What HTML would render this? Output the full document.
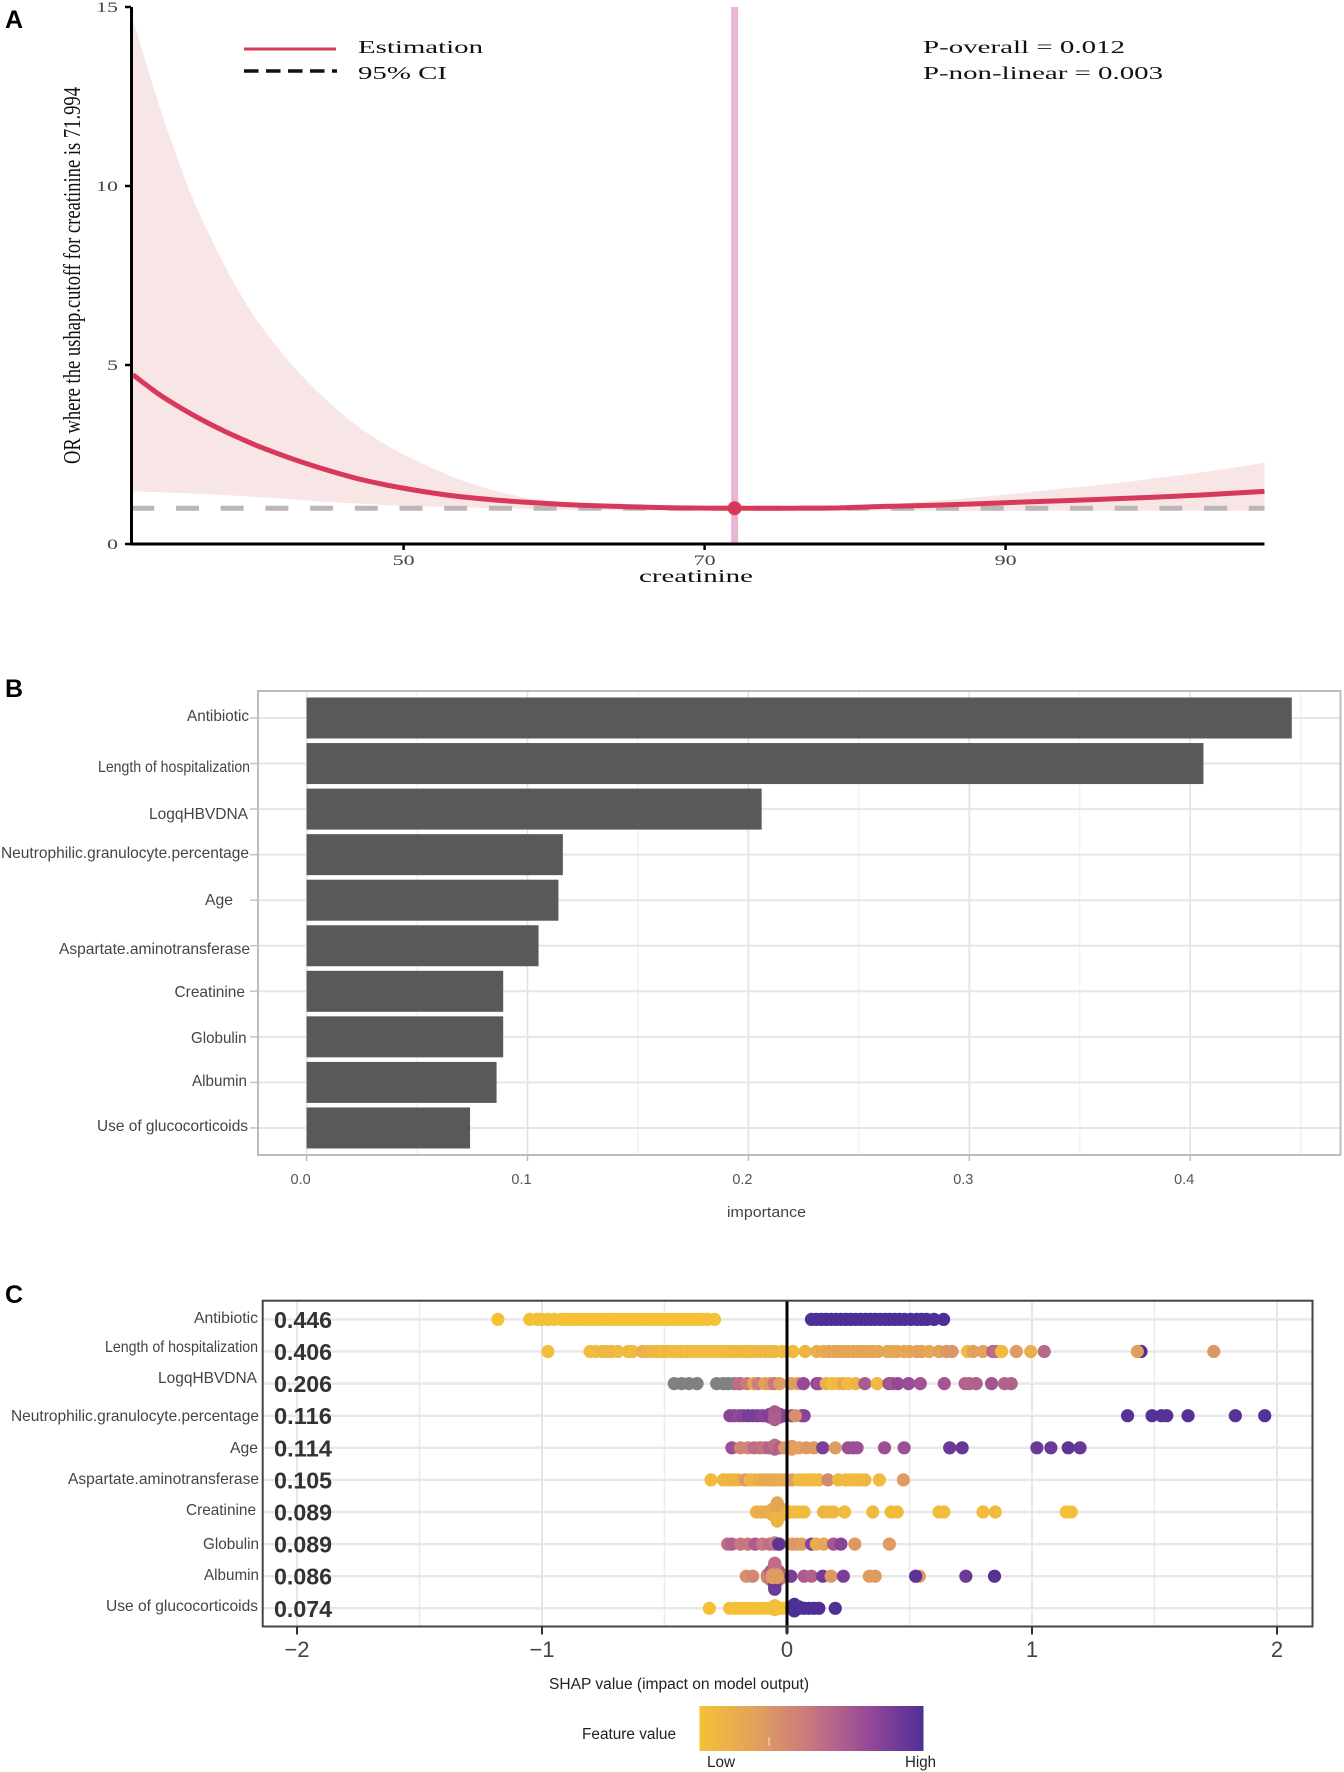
<!DOCTYPE html>
<html lang="en">
<head>
<meta charset="utf-8">
<title>Creatinine RCS, variable importance and SHAP summary</title>
<style>
html,body{margin:0;padding:0;background:#fff;}
svg{display:block;}
.serif{font-family:"Liberation Serif",serif;}
.sans{font-family:"Liberation Sans",sans-serif;}
</style>
</head>
<body>
<svg id="fig" xmlns="http://www.w3.org/2000/svg" width="1344" height="1772" viewBox="0 0 1344 1772">
<defs>
<linearGradient id="fvGrad" x1="0" x2="1" y1="0" y2="0">
<stop offset="0" stop-color="#f4c136"/>
<stop offset="0.25" stop-color="#e2a15c"/>
<stop offset="0.5" stop-color="#c87680"/>
<stop offset="0.75" stop-color="#974a98"/>
<stop offset="1" stop-color="#4e2f96"/>
</linearGradient>
</defs>
<rect width="1344" height="1772" fill="#fff"/>

<g class="sans" font-weight="bold" font-size="25" fill="#000">
<text x="5" y="28">A</text>
<text x="5" y="697">B</text>
<text x="5" y="1303">C</text>
</g>

<g id="panelA"></g>
<g class="serif" fill="#111">
<line x1="244" x2="336" y1="49" y2="49" stroke="#d93a58" stroke-width="3"/>
<line x1="244" x2="337" y1="71" y2="71" stroke="#111" stroke-width="3.5" stroke-dasharray="14.5 7.5"/>
<text x="358" y="53" font-size="18" textLength="125" lengthAdjust="spacingAndGlyphs">Estimation</text>
<text x="358" y="79" font-size="18" textLength="89" lengthAdjust="spacingAndGlyphs">95% CI</text>
<text x="923" y="53" font-size="18" textLength="202" lengthAdjust="spacingAndGlyphs">P-overall = 0.012</text>
<text x="923" y="79" font-size="18" textLength="240" lengthAdjust="spacingAndGlyphs">P-non-linear = 0.003</text>
<text x="639" y="582" font-size="18" textLength="114" lengthAdjust="spacingAndGlyphs">creatinine</text>
<text x="80" y="464" font-size="24" textLength="377" lengthAdjust="spacingAndGlyphs" transform="rotate(-90 80 464)">OR where the ushap.cutoff for creatinine is 71.994</text>
</g>

<g id="panelB"></g>
<g class="sans" font-size="16" fill="#444">
<text x="187" y="721" textLength="62" lengthAdjust="spacingAndGlyphs">Antibiotic</text>
<text x="98" y="772" textLength="152" lengthAdjust="spacingAndGlyphs">Length of hospitalization</text>
<text x="149" y="819" textLength="99" lengthAdjust="spacingAndGlyphs">LogqHBVDNA</text>
<text x="1" y="858" textLength="248" lengthAdjust="spacingAndGlyphs">Neutrophilic.granulocyte.percentage</text>
<text x="205" y="905" textLength="28" lengthAdjust="spacingAndGlyphs">Age</text>
<text x="59" y="954" textLength="191" lengthAdjust="spacingAndGlyphs">Aspartate.aminotransferase</text>
<text x="174.5" y="997" textLength="70.5" lengthAdjust="spacingAndGlyphs">Creatinine</text>
<text x="191" y="1043" textLength="55.5" lengthAdjust="spacingAndGlyphs">Globulin</text>
<text x="192" y="1086" textLength="55" lengthAdjust="spacingAndGlyphs">Albumin</text>
<text x="97" y="1131" textLength="151" lengthAdjust="spacingAndGlyphs">Use of glucocorticoids</text>
<text x="727" y="1217" font-size="15" textLength="79" lengthAdjust="spacingAndGlyphs">importance</text>
</g>

<g id="panelC"></g>
<g class="sans" font-size="16" fill="#444">
<text x="194" y="1323" textLength="64" lengthAdjust="spacingAndGlyphs">Antibiotic</text>
<text x="105" y="1352" textLength="153" lengthAdjust="spacingAndGlyphs">Length of hospitalization</text>
<text x="158" y="1383" textLength="99" lengthAdjust="spacingAndGlyphs">LogqHBVDNA</text>
<text x="11" y="1421" textLength="248" lengthAdjust="spacingAndGlyphs">Neutrophilic.granulocyte.percentage</text>
<text x="230" y="1453" textLength="28" lengthAdjust="spacingAndGlyphs">Age</text>
<text x="68" y="1484" textLength="191" lengthAdjust="spacingAndGlyphs">Aspartate.aminotransferase</text>
<text x="186" y="1515" textLength="70" lengthAdjust="spacingAndGlyphs">Creatinine</text>
<text x="203" y="1549" textLength="56" lengthAdjust="spacingAndGlyphs">Globulin</text>
<text x="204" y="1580" textLength="55" lengthAdjust="spacingAndGlyphs">Albumin</text>
<text x="106" y="1611" textLength="152" lengthAdjust="spacingAndGlyphs">Use of glucocorticoids</text>
</g>
<g class="sans" fill="#222">
<text x="549" y="1689" font-size="15.5" textLength="260" lengthAdjust="spacingAndGlyphs">SHAP value (impact on model output)</text>
<text x="582" y="1739" font-size="15.5" textLength="94" lengthAdjust="spacingAndGlyphs">Feature value</text>
<rect x="699.5" y="1706" width="224" height="45" fill="url(#fvGrad)"/>
<line x1="769" x2="769" y1="1737" y2="1746" stroke="#f6e4dc" stroke-width="1"/>
<text x="707" y="1767" font-size="15.5" textLength="28" lengthAdjust="spacingAndGlyphs">Low</text>
<text x="905" y="1767" font-size="15.5" textLength="31" lengthAdjust="spacingAndGlyphs">High</text>
</g>
</svg>

<script>
/* ---------- Panel A data ---------- */
const creatinine = [32,33.65,34.8,35.9,37,38.1,39.2,40.3,42.6,44.8,46.9,49.2,51.4,53.6,55.8,58,60,62,65,68,72,76,79,82,85,88,91,94,97,100,103,107.2];
const estimate   = [4.73,4.21,3.9,3.63,3.38,3.15,2.94,2.74,2.38,2.08,1.83,1.62,1.46,1.33,1.24,1.17,1.12,1.08,1.04,1.01,1,1,1.01,1.05,1.08,1.12,1.17,1.21,1.26,1.31,1.37,1.47];
const ciUpper    = [14.66,12.4,10.97,9.74,8.72,7.78,6.95,6.22,5,4.05,3.3,2.68,2.22,1.82,1.52,1.3,1.19,1.12,1.05,1.01,1,1,1.04,1.1,1.2,1.3,1.42,1.56,1.68,1.84,2,2.27];
const ciLower    = [1.47,1.45,1.43,1.41,1.39,1.37,1.34,1.31,1.25,1.18,1.13,1.08,1.05,1.03,1,0.98,0.96,0.95,0.94,0.95,1,0.97,0.95,0.93,0.93,0.93,0.93,0.93,0.93,0.93,0.93,0.93];
const cutoffX = 71.994;
const refOR = 1;
const aXTicks = [50,70,90];
const aYTicks = [0,5,10,15];

/* ---------- Panel B data ---------- */
const importance = [0.446,0.406,0.206,0.116,0.114,0.105,0.089,0.089,0.086,0.074];
const bMajorTicks = [0,0.1,0.2,0.3,0.4];
const bMinorTicks = [0.05,0.15,0.25,0.35,0.45];
const bTickLabels = ["0.0","0.1","0.2","0.3","0.4"];

/* ---------- Panel C data: [SHAP value, feature value (0 low .. 1 high, null = missing)] ---------- */
const meanShap = ["0.446","0.406","0.206","0.116","0.114","0.105","0.089","0.089","0.086","0.074"];
const cMajorTicks = [-2,-1,0,1,2];
const cMinorTicks = [-1.5,-0.5,0.5,1.5];
const cTickLabels = ["\u22122","\u22121","0","1","2"];
const rowAntibiotic = [[-1.18,0],[-1.05,0],[-1.02,0],[-1,0],[-0.975,0],[-0.95,0],[-0.92,0],[-0.905,0],[-0.885,0],[-0.865,0],[-0.845,0],[-0.825,0],[-0.805,0],[-0.785,0],[-0.765,0],[-0.745,0],[-0.725,0],[-0.705,0],[-0.685,0],[-0.665,0],[-0.645,0],[-0.625,0],[-0.605,0],[-0.585,0],[-0.565,0],[-0.545,0],[-0.525,0],[-0.505,0],[-0.485,0],[-0.465,0],[-0.445,0],[-0.425,0],[-0.405,0],[-0.385,0],[-0.365,0],[-0.345,0],[-0.325,0],[-0.296,0],
[0.1,1],[0.12,1],[0.14,1],[0.16,1],[0.18,1],[0.2,1],[0.22,1],[0.24,1],[0.26,1],[0.28,1],[0.3,1],[0.32,1],[0.34,1],[0.36,1],[0.38,1],[0.4,1],[0.42,1],[0.44,1],[0.46,1],[0.48,1],[0.505,1],[0.53,1],[0.55,1],[0.57,1],[0.6,1],[0.639,1]];
const rowHospitalization = [[1.445,1],[-0.976,0.02],[-0.804,0.03],[-0.78,0.04],[-0.753,0.08],[-0.735,0.08],[-0.717,0.08],[-0.69,0.06],[-0.648,0.06],[-0.63,0.06],[-0.59,0.14],[-0.57,0.12],[-0.55,0.08],[-0.53,0.08],[-0.51,0.06],[-0.49,0.08],[-0.47,0.06],[-0.45,0.06],[-0.43,0.06],[-0.41,0.05],[-0.39,0.05],[-0.37,0.05],[-0.35,0.05],[-0.33,0.05],[-0.31,0.05],[-0.29,0.05],[-0.27,0.05],[-0.25,0.05],[-0.23,0.07],[-0.21,0.07],[-0.19,0.07],[-0.17,0.07],[-0.15,0.07],[-0.13,0.07],[-0.11,0.07],[-0.09,0.08],[-0.07,0.08],[-0.05,0.08],[-0.02,0.06],[0.024,0.06],[0.074,0.1],[0.122,0.15],[0.15,0.18],[0.17,0.2],[0.194,0.2],[0.21,0.22],[0.23,0.22],[0.25,0.22],[0.27,0.22],[0.29,0.22],[0.31,0.22],[0.33,0.22],[0.35,0.22],[0.372,0.22],[0.41,0.2],[0.43,0.2],[0.45,0.2],[0.478,0.2],[0.5,0.22],[0.53,0.24],[0.55,0.24],[0.58,0.2],[0.62,0.24],[0.65,0.3],[0.674,0.32],[0.737,0.05],[0.76,0.25],[0.8,0.25],[0.84,0.6],[0.853,0.55],[0.876,0.05],[0.936,0.28],[0.995,0.15],[1.05,0.58],[1.43,0.26],[1.742,0.3]];
const rowLogqHBVDNA = [[-0.46,null],[-0.43,null],[-0.4,null],[-0.367,null],[-0.287,null],[-0.26,null],[-0.24,null],[-0.216,null],[-0.19,null],[-0.198,0.55],[-0.163,0.48],[-0.136,0.22],[-0.118,0.45],[-0.09,0.24],[-0.07,0.3],[-0.052,0.5],[-0.03,0.28],[0.016,0.25],[0.045,0.3],[0.067,0.76],[0.122,0.8],[0.131,0.72],[0.16,0.14],[0.185,0.03],[0.21,0.08],[0.23,0.2],[0.25,0.05],[0.28,0.1],[0.318,0.66],[0.368,0.06],[0.416,0.72],[0.43,0.68],[0.452,0.76],[0.496,0.74],[0.544,0.7],[0.642,0.68],[0.727,0.62],[0.745,0.6],[0.772,0.62],[0.835,0.7],[0.888,0.62],[0.915,0.62]];
const rowNeutrophilic = [[-0.233,0.8],[-0.215,0.8],[-0.195,0.76],[-0.18,0.8],[-0.16,0.85],[-0.14,0.85],[-0.12,0.85],[-0.1,0.8],[-0.085,0.8],[-0.07,0.82],[-0.07,0.82],[-0.07,0.82],[-0.03,0.82],[-0.03,0.82],[-0.03,0.82],[-0.01,0.8],[0.02,0.8],[0.06,0.8],[0.07,0.8],[0.034,0.35],[-0.05,0.76],[-0.05,0.74],[-0.05,0.72],[-0.05,0.68],[-0.05,0.66],[-0.05,0.66],[-0.05,0.64],
[1.39,0.97],[1.49,0.97],[1.528,0.97],[1.55,0.97],[1.637,0.97],[1.83,0.97],[1.95,0.97]];
const rowAge = [[-0.225,0.72],[-0.19,0.42],[-0.16,0.42],[-0.135,0.55],[-0.11,0.55],[-0.09,0.5],[-0.073,0.6],[-0.06,0.6],[-0.05,0.6],[-0.05,0.55],[-0.05,0.6],[-0.05,0.55],[-0.03,0.62],[-0.01,0.3],[0.02,0.25],[0.02,0.28],[0.02,0.25],[0.05,0.25],[0.08,0.3],[0.11,0.3],[0.146,0.85],[0.197,0.28],[0.25,0.72],[0.27,0.72],[0.286,0.72],[0.398,0.72],[0.478,0.72],[0.664,0.9],[0.715,0.92],[1.02,0.9],[1.077,0.9],[1.148,0.95],[1.196,0.92]];
const rowAST = [[-0.31,0.05],[-0.26,0.08],[-0.24,0.08],[-0.22,0.1],[-0.2,0.1],[-0.171,0.3],[-0.15,0.1],[-0.13,0.1],[-0.11,0.16],[-0.09,0.18],[-0.07,0.18],[-0.05,0.18],[-0.03,0.15],[-0.01,0.15],[0.02,0.25],[0.05,0.05],[0.07,0.05],[0.09,0.05],[0.11,0.05],[0.13,0.05],[0.167,0.4],[0.21,0.08],[0.24,0.06],[0.26,0.06],[0.28,0.06],[0.3,0.06],[0.318,0.08],[0.377,0.05],[0.475,0.28]];
const rowCreatinine = [[-0.125,0.12],[-0.105,0.15],[-0.085,0.18],[-0.06,0.12],[-0.06,0.16],[-0.06,0.12],[-0.06,0.16],[-0.06,0.14],[-0.02,0.12],[-0.02,0.16],[-0.02,0.12],[-0.02,0.16],[-0.02,0.14],[-0.04,0.18],[-0.04,0.22],[-0.04,0.12],[-0.04,0.22],[-0.04,0.12],[-0.04,0.2],[-0.04,0.12],[-0.04,0.2],[-0.04,0.12],[-0.04,0.2],[-0.04,0.1],[-0.04,0.22],[-0.04,0.1],[-0.04,0.22],[-0.04,0.1],[0.01,0.06],[0.03,0.05],[0.05,0.05],[0.07,0.05],[0.149,0.08],[0.17,0.08],[0.19,0.08],[0.235,0.06],[0.35,0.06],[0.425,0.04],[0.45,0.04],[0.62,0.03],[0.64,0.03],[0.8,0.04],[0.85,0.04],[1.14,0.01],[1.16,0.01]];
const rowGlobulin = [[-0.242,0.55],[-0.225,0.62],[-0.19,0.5],[-0.16,0.5],[-0.13,0.65],[-0.1,0.5],[-0.07,0.55],[-0.05,0.55],[-0.05,0.5],[-0.03,0.5],[-0.034,0.95],[0.02,0.28],[0.04,0.3],[0.06,0.28],[0.1,0.8],[0.12,0.15],[0.15,0.22],[0.19,0.68],[0.22,0.8],[0.277,0.3],[0.418,0.28]];
const rowAlbumin = [[-0.166,0.35],[-0.14,0.4],[-0.08,0.42],[-0.08,0.45],[-0.08,0.42],[-0.02,0.45],[-0.02,0.5],[-0.02,0.45],[-0.065,0.45],[-0.065,0.5],[-0.065,0.45],[-0.065,0.55],[-0.065,0.5],[-0.065,0.6],[-0.065,0.5],[-0.065,0.65],[-0.035,0.45],[-0.035,0.5],[-0.035,0.45],[-0.035,0.55],[-0.035,0.5],[-0.035,0.6],[-0.035,0.5],[-0.035,0.65],[-0.05,0.55],[-0.05,0.55],[-0.05,0.5],[-0.05,0.55],[-0.05,0.6],[-0.05,0.55],[-0.05,0.65],[-0.05,0.55],[-0.05,0.72],[-0.05,0.55],[-0.05,0.78],[-0.05,0.55],[-0.05,0.82],[-0.05,0.55],[-0.05,0.85],[-0.05,0.55],[-0.05,0.88],[-0.05,0.55],[-0.05,0.9],[-0.05,0.55],[-0.05,0.9],[-0.06,0.3],[-0.06,0.3],[-0.06,0.28],[-0.04,0.28],[-0.04,0.3],[-0.04,0.28],[0.016,0.85],[0.07,0.65],[0.1,0.62],[0.146,0.88],[0.18,0.3],[0.23,0.85],[0.336,0.28],[0.36,0.28],[0.54,0.3],[0.525,0.95],[0.73,0.9],[0.847,0.97]];
const rowGlucocorticoids = [[-0.317,0],[-0.234,0.02],[-0.21,0],[-0.19,0],[-0.17,0],[-0.15,0],[-0.13,0],[-0.11,0],[-0.09,0],[-0.07,0.03],[-0.05,0.03],[-0.05,0.03],[-0.05,0.03],[-0.05,0.03],[-0.03,0.02],[-0.015,0],
[0.02,1],[0.03,1],[0.03,1],[0.03,1],[0.03,1],[0.03,1],[0.03,1],[0.05,1],[0.05,1],[0.07,1],[0.09,1],[0.11,1],[0.13,1],[0.197,1]];
const shapRows = [rowAntibiotic,rowHospitalization,rowLogqHBVDNA,rowNeutrophilic,rowAge,rowAST,rowCreatinine,rowGlobulin,rowAlbumin,rowGlucocorticoids];

/* ---------- helpers ---------- */
const NS = "http://www.w3.org/2000/svg";
function make(parent, tag, attrs){
  const el = document.createElementNS(NS, tag);
  for (const k in attrs) el.setAttribute(k, attrs[k]);
  parent.appendChild(el);
  return el;
}
function smoothPath(pts, move){
  const slope = i => {
    const a = pts[Math.max(i-1,0)], b = pts[Math.min(i+1,pts.length-1)];
    return (b[1]-a[1])/(b[0]-a[0]);
  };
  let d = (move ? "M" : "L") + pts[0][0].toFixed(2) + " " + pts[0][1].toFixed(2);
  for (let i = 0; i < pts.length - 1; i++){
    const p1 = pts[i], p2 = pts[i+1], h = (p2[0]-p1[0])/3;
    const c1x = p1[0]+h, c1y = p1[1]+slope(i)*h;
    const c2x = p2[0]-h, c2y = p2[1]-slope(i+1)*h;
    d += "C" + c1x.toFixed(2) + " " + c1y.toFixed(2) + " " + c2x.toFixed(2) + " " + c2y.toFixed(2) + " " + p2[0].toFixed(2) + " " + p2[1].toFixed(2);
  }
  return d;
}

/* ---------- Panel A ---------- */
(function(){
  const g = document.getElementById("panelA");
  const xA = v => 403.6 + (v-50)*15.05;
  const yA = v => 544 - v*35.8;
  const up = creatinine.map((c,i)=>[xA(c),yA(ciUpper[i])]);
  const lo = creatinine.map((c,i)=>[xA(c),yA(ciLower[i])]).reverse();
  const band = make(g,"path",{d:smoothPath(up,true)+smoothPath(lo,false)+"Z",fill:"#f8e5e6"});
  
  
  const ref = make(g,"line",{x1:131.3,x2:xA(creatinine[creatinine.length-1]),y1:yA(refOR),y2:yA(refOR),stroke:"#bdb6b8","stroke-width":5,"stroke-dasharray":"23 21.7"});
  
  
  const vline = make(g,"line",{x1:xA(cutoffX),x2:xA(cutoffX),y1:yA(15),y2:yA(0),stroke:"#e8b6d4","stroke-width":7});
  
  
  const est = make(g,"path",{d:smoothPath(creatinine.map((c,i)=>[xA(c),yA(estimate[i])]),true),fill:"none",stroke:"#d8385a","stroke-width":5});
  
  
  const pt = make(g,"circle",{cx:xA(cutoffX),cy:yA(refOR),r:7,fill:"#d8385a"});
  
  
  const ax = make(g,"line",{x1:130,x2:xA(creatinine[creatinine.length-1]),y1:yA(0),y2:yA(0),stroke:"#000","stroke-width":3});
  
  
  const ay = make(g,"line",{x1:131.5,x2:131.5,y1:yA(15),y2:yA(0)+1.5,stroke:"#000","stroke-width":3});
  
  
  aXTicks.forEach(t=>{
    const tick = make(g,"line",{x1:xA(t),x2:xA(t),y1:yA(0),y2:yA(0)+6,stroke:"#000","stroke-width":2.5});
    
    
    const lab = make(g,"text",{x:xA(t),y:565,"text-anchor":"middle","font-size":15,textLength:String(t).length*11,lengthAdjust:"spacingAndGlyphs",fill:"#444","font-family":'"Liberation Serif",serif'});
    lab.textContent = t;
    
    
  });
  aYTicks.forEach(t=>{
    const tick = make(g,"line",{x1:125,x2:131,y1:yA(t),y2:yA(t),stroke:"#000","stroke-width":2.5});
    
    
    const lab = make(g,"text",{x:118,y:yA(t)+5,"text-anchor":"end","font-size":15,textLength:String(t).length*11,lengthAdjust:"spacingAndGlyphs",fill:"#444","font-family":'"Liberation Serif",serif'});
    lab.textContent = t;
    
    
  });
})();

/* ---------- Panel B ---------- */
(function(){
  const g = document.getElementById("panelB");
  const xB = v => 306.6 + v*2209;
  const yB = i => 718 + i*45.55;
  const L = 258, R = 1340.5, T = 691, B = 1155;
  bMinorTicks.forEach(t=>{
    const l = make(g,"line",{x1:xB(t),x2:xB(t),y1:T,y2:B,stroke:"#efefef","stroke-width":1.2});
    
    
  });
  bMajorTicks.forEach((t,i)=>{
    const l = make(g,"line",{x1:xB(t),x2:xB(t),y1:T,y2:B,stroke:"#e2e2e2","stroke-width":1.6});
    
    
    const tick = make(g,"line",{x1:xB(t),x2:xB(t),y1:B,y2:B+6,stroke:"#bbb","stroke-width":1.5});
    
    
    const lab = make(g,"text",{x:xB(t)-6,y:1184,"text-anchor":"middle","font-size":14.5,fill:"#555","font-family":'"Liberation Sans",sans-serif'});
    lab.textContent = bTickLabels[i];
    
    
  });
  importance.forEach((v,i)=>{
    const l = make(g,"line",{x1:L,x2:R,y1:yB(i),y2:yB(i),stroke:"#e6e6e6","stroke-width":2});
    
    
    const tick = make(g,"line",{x1:L-8,x2:L,y1:yB(i),y2:yB(i),stroke:"#c4c4c4","stroke-width":1.5});
    
    
  });
  importance.forEach((v,i)=>{
    const bar = make(g,"rect",{x:xB(0),y:yB(i)-20.5,width:xB(v)-xB(0),height:41,fill:"#595959"});
    
    
  });
  const frame = make(g,"rect",{x:L,y:T,width:R-L,height:B-T,fill:"none",stroke:"#bcbcbc","stroke-width":2});
  
  
})();

/* ---------- Panel C ---------- */
(function(){
  const g = document.getElementById("panelC");
  const xC = v => 787 + v*245;
  const yC = i => 1319.4 + i*32.1;
  const L = 262.7, R = 1312.5, T = 1300.7, B = 1626.5;
  const stops = [[244,193,54],[226,161,92],[200,118,128],[151,74,152],[78,47,150]];
  function colorFor(f){
    if (f === null) return "#808080";
    const p = Math.min(f,0.9999)*(stops.length-1), k = Math.floor(p), t = p-k;
    const c = stops[k].map((s,j)=>Math.round(s+(stops[k+1][j]-s)*t));
    return "rgb("+c.join(",")+")";
  }
  cMinorTicks.forEach(t=>{
    const l = make(g,"line",{x1:xC(t),x2:xC(t),y1:T,y2:B,stroke:"#ececec","stroke-width":1.5});
    
    
  });
  cMajorTicks.forEach(t=>{
    const l = make(g,"line",{x1:xC(t),x2:xC(t),y1:T,y2:B,stroke:"#e6e6e6","stroke-width":2});
    
    
  });
  shapRows.forEach((row,i)=>{
    const l = make(g,"line",{x1:L,x2:R,y1:yC(i),y2:yC(i),stroke:"#e8e8e8","stroke-width":2.5});
    
    
  });
  shapRows.forEach((row,i)=>{
    const bins = {};
    row.forEach(p=>{
      const key = Math.round(p[0]/0.005);
      const n = bins[key] = (bins[key]||0)+1;
      const off = (n%2 ? 1 : -1)*Math.floor(n/2)*1.3;
      const dot = make(g,"circle",{cx:xC(p[0]),cy:yC(i)+off,r:6.6,fill:colorFor(p[1])});
      
      
    });
  });
  meanShap.forEach((s,i)=>{
    const lab = make(g,"text",{x:274,y:yC(i)+8.5,"font-size":23,"font-weight":"bold",fill:"#333",textLength:58,lengthAdjust:"spacingAndGlyphs","font-family":'"Liberation Sans",sans-serif'});
    lab.textContent = s;
    
    
  });
  const zero = make(g,"line",{x1:xC(0),x2:xC(0),y1:T,y2:B+7,stroke:"#000","stroke-width":3});
  
  
  const frame = make(g,"rect",{x:L,y:T,width:R-L,height:B-T,fill:"none",stroke:"#444","stroke-width":2});
  
  
  cMajorTicks.forEach((t,i)=>{
    const tick = make(g,"line",{x1:xC(t),x2:xC(t),y1:B,y2:B+8,stroke:"#333","stroke-width":2});
    
    
    const lab = make(g,"text",{x:xC(t),y:1657,"text-anchor":"middle","font-size":22,fill:"#444","font-family":'"Liberation Sans",sans-serif'});
    lab.textContent = cTickLabels[i];
    
    
  });
})();
</script>
</body>
</html>
